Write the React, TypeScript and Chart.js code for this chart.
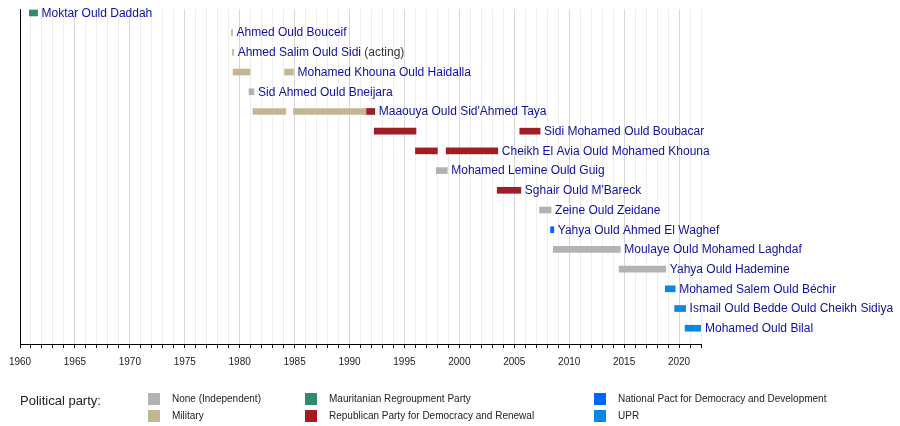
import { useEffect, useRef } from "react"
import { Chart, registerables, type ChartConfiguration, type Plugin } from "chart.js"

Chart.register(...registerables)

// one row per prime minister, top to bottom
const primeMinisters = [
  "Moktar Ould Daddah",
  "Ahmed Ould Bouceif",
  "Ahmed Salim Ould Sidi",
  "Mohamed Khouna Ould Haidalla",
  "Sid Ahmed Ould Bneijara",
  "Maaouya Ould Sid'Ahmed Taya",
  "Sidi Mohamed Ould Boubacar",
  "Cheikh El Avia Ould Mohamed Khouna",
  "Mohamed Lemine Ould Guig",
  "Sghair Ould M'Bareck",
  "Zeine Ould Zeidane",
  "Yahya Ould Ahmed El Waghef",
  "Moulaye Ould Mohamed Laghdaf",
  "Yahya Ould Hademine",
  "Mohamed Salem Ould Béchir",
  "Ismail Ould Bedde Ould Cheikh Sidiya",
  "Mohamed Ould Bilal",
]
const actingRows = [2]

// terms: [row, start year, end year]
const independentTerms = [
  [4, 1980.85, 1981.3],
  [8, 1997.9, 1998.9],
  [10, 2007.3, 2008.35],
  [12, 2008.55, 2014.65],
  [13, 2014.55, 2018.8],
]
const militaryTerms = [
  [1, 1979.25, 1979.35],
  [2, 1979.35, 1979.45],
  [3, 1979.4, 1980.95],
  [3, 1984.1, 1984.9],
  [5, 1981.2, 1984.2],
  [5, 1984.9, 1991.5],
]
const regroupmentTerms = [[0, 1960.85, 1961.6]]
const republicanTerms = [
  [5, 1991.5, 1992.3],
  [6, 1992.25, 1996.05],
  [6, 2005.5, 2007.35],
  [7, 1996.0, 1998.0],
  [7, 1998.8, 2003.5],
  [9, 2003.45, 2005.6],
]
const nationalPactTerms = [[11, 2008.3, 2008.6]]
const uprTerms = [
  [14, 2018.75, 2019.65],
  [15, 2019.6, 2020.6],
  [16, 2020.55, 2022.0],
]

const parties = [
  { name: "None (Independent)", color: "#b3b3b3", terms: independentTerms },
  { name: "Military", color: "#c4b593", terms: militaryTerms },
  { name: "Mauritanian Regroupment Party", color: "#2e8b6c", terms: regroupmentTerms },
  { name: "Republican Party for Democracy and Renewal", color: "#a11d25", terms: republicanTerms },
  { name: "National Pact for Democracy and Development", color: "#0066ff", terms: nationalPactTerms },
  { name: "UPR", color: "#0b87dd", terms: uprTerms },
]
// legend layout: columns of two
const legendOrder = [0, 1, 2, 3, 4, 5]

const startYear = 1960
const endYear = 2022

const FONT = '"Liberation Sans", Arial, sans-serif'

const nameLabels: Plugin<"bar"> = {
  id: "nameLabels",
  afterDatasetsDraw(chart) {
    const { ctx } = chart
    const xs = chart.scales.x
    const ys = chart.scales.y
    ctx.save()
    ctx.font = `12px ${FONT}`
    ctx.textBaseline = "middle"
    primeMinisters.forEach((name, row) => {
      let end = -Infinity
      parties.forEach((p) => p.terms.forEach((t) => { if (t[0] === row) end = Math.max(end, t[2]) }))
      const x = xs.getPixelForValue(end) + 4
      const y = ys.getPixelForValue(row) + 0.5
      ctx.fillStyle = "#1010a0"
      ctx.fillText(name, x, y)
      if (actingRows.includes(row)) {
        const w = ctx.measureText(name).width
        ctx.fillStyle = "#333"
        ctx.fillText(" (acting)", x + w, y)
      }
    })
    ctx.restore()
  },
}

const partyLegend: Plugin<"bar"> = {
  id: "partyLegend",
  afterDraw(chart) {
    const { ctx } = chart
    const colX = [148, 305, 594]
    const rowY = [393, 410]
    ctx.save()
    ctx.textBaseline = "middle"
    ctx.fillStyle = "#222"
    ctx.font = `13px ${FONT}`
    ctx.fillText("Political party:", 20, 401)
    ctx.font = `10px ${FONT}`
    legendOrder.forEach((pi, i) => {
      const p = parties[pi]
      const x = colX[Math.floor(i / 2)]
      const y = rowY[i % 2]
      ctx.fillStyle = p.color
      ctx.fillRect(x, y, 12, 12)
      ctx.fillStyle = "#222"
      ctx.fillText(p.name, x + 24, y + 6.5)
    })
    ctx.restore()
  },
}

const leftAxis: Plugin<"bar"> = {
  id: "leftAxis",
  afterDraw(chart) {
    const { ctx, chartArea } = chart
    ctx.save()
    ctx.strokeStyle = "#000"
    ctx.lineWidth = 1
    ctx.beginPath()
    ctx.moveTo(chartArea.left + 0.5, chartArea.top)
    ctx.lineTo(chartArea.left + 0.5, chartArea.bottom)
    ctx.stroke()
    ctx.restore()
  },
}

export default function App() {
  const canvasRef = useRef<HTMLCanvasElement>(null)

  useEffect(() => {
    document.body.style.margin = "0"
    if (!canvasRef.current) return

    const config: ChartConfiguration<"bar"> = {
      type: "bar",
      data: {
        datasets: parties.map((p) => ({
          label: p.name,
          data: p.terms.map((t) => ({ x: [t[1], t[2]], y: t[0] })) as any,
          backgroundColor: p.color,
          borderWidth: 0,
          barThickness: 6,
          grouped: false,
        })),
      },
      options: {
        indexAxis: "y",
        animation: false,
        responsive: true,
        maintainAspectRatio: false,
        layout: { padding: { left: 20, right: 199, top: 9, bottom: 50 } },
        plugins: {
          legend: { display: false },
          tooltip: { enabled: false },
        },
        scales: {
          x: {
            type: "linear",
            min: startYear,
            max: endYear,
            ticks: {
              stepSize: 1,
              autoSkip: false,
              maxRotation: 0,
              maxTicksLimit: 100,
              padding: 8,
              color: "#222",
              font: { family: FONT, size: 10 },
              callback: (v) => (Number(v) % 5 === 0 ? String(v) : ""),
            },
            grid: {
              color: (c) =>
                c.tick.value === startYear ? "#000" : c.tick.value % 5 === 0 ? "#d8d8d8" : "#eeeeee",
              tickColor: "#000",
              tickLength: 4,
            },
            border: { color: "#000" },
          },
          y: {
            type: "linear",
            min: -0.2,
            max: 16.8,
            reverse: true,
            offset: false,
            display: false,
          },
        },
      },
      plugins: [nameLabels, partyLegend, leftAxis],
    }

    const chart = new Chart(canvasRef.current, config)
    return () => chart.destroy()
  }, [])

  return (
    <div style={{ position: "absolute", left: 0, top: 0, width: 900, height: 426, background: "#fff" }}>
      <canvas ref={canvasRef} />
    </div>
  )
}
